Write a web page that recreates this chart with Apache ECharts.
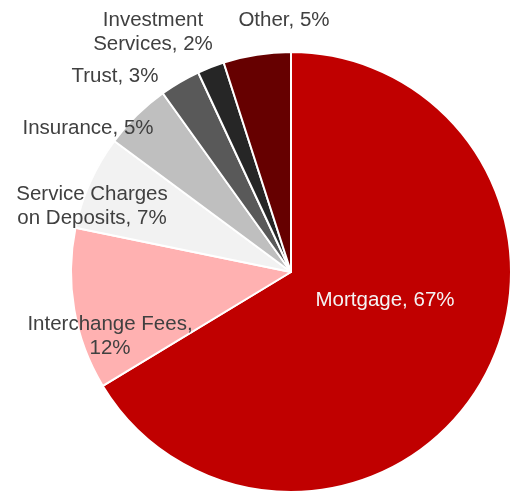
<!DOCTYPE html>
<html>
<head>
<meta charset="utf-8">
<script src="https://cdn.jsdelivr.net/npm/echarts@6/dist/echarts.min.js"></script>
<style>
  html, body { margin: 0; padding: 0; background: #ffffff; }
  #chart { width: 513px; height: 493px; }
</style>
</head>
<body>
<div id="chart"></div>
<script>
// Revenue mix by source (percent of total)
const categories = ['Mortgage', 'Interchange Fees', 'Service Charges on Deposits', 'Insurance', 'Trust', 'Investment Services', 'Other'];
const shares = [67, 12, 7, 5, 3, 2, 5];
const sliceColors = ['#c00000', '#ffb1b1', '#f2f2f2', '#bfbfbf', '#595959', '#262626', '#660000'];

// Where each label wraps onto a second line (index in the category name list)
const labelWrap = {
  1: function (n, v) { return n + ',\n' + v + '%'; },
  2: function (n, v) { return 'Service Charges\non Deposits, ' + v + '%'; },
  5: function (n, v) { return 'Investment\nServices, ' + v + '%'; }
};

// Label anchor points (centre of each text block)
const labelAnchors = [
  [385, 300], [110, 336], [92, 206], [88, 128], [115, 76], [153, 32], [284, 20]
];

const chart = echarts.init(document.getElementById('chart'), null, { renderer: 'canvas' });

chart.setOption({
  animation: false,
  backgroundColor: '#ffffff',
  series: [{
    type: 'pie',
    center: [291, 272],
    radius: 220,
    startAngle: 90,
    clockwise: true,
    avoidLabelOverlap: false,
    itemStyle: { borderColor: '#ffffff', borderWidth: 2 },
    label: {
      show: true,
      position: 'outside',
      fontFamily: 'Liberation Sans, Arial, sans-serif',
      fontSize: 20.5,
      lineHeight: 24,
      color: '#404040',
      align: 'center',
      formatter: function (p) {
        const w = labelWrap[p.dataIndex];
        return w ? w(p.name, p.value) : p.name + ', ' + p.value + '%';
      }
    },
    labelLine: { show: false },
    labelLayout: function (p) {
      const a = labelAnchors[p.dataIndex];
      return { x: a[0], y: a[1], align: 'center', verticalAlign: 'middle', hideOverlap: false };
    },
    data: categories.map(function (c, i) {
      const item = { name: c, value: shares[i], itemStyle: { color: sliceColors[i] } };
      if (i === 0) item.label = { color: '#f4f4f4' };
      return item;
    })
  }]
});
</script>
</body>
</html>
